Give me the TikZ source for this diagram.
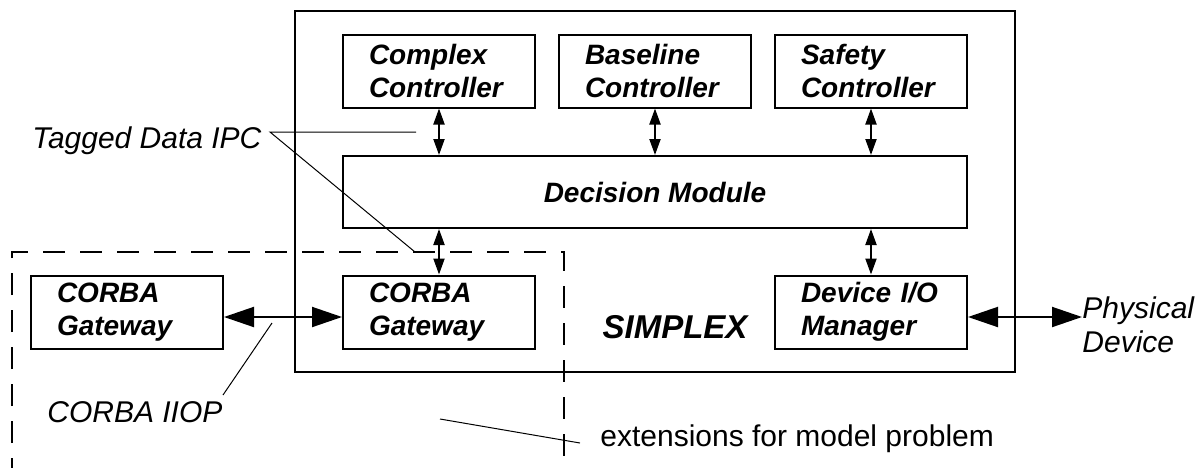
\documentclass[tikz,border=0pt]{standalone}
\usepackage{fontspec}
\setmainfont{Liberation Sans}
\usetikzlibrary{arrows.meta}

\begin{document}
\begin{tikzpicture}[x = 0.5pt, y = -0.5pt,
  box/.style = {draw, line width = 1pt, minimum height = 36.5pt, text width = 70pt, inner xsep = 13pt, inner ysep = 0pt, align = left, font = \fontsize{14}{16.5}\selectfont\bfseries\itshape},
  wide/.style = {draw, line width = 1pt, minimum width = 312pt, minimum height = 36pt, inner sep = 0pt, font = \fontsize{14}{16.5}\selectfont\bfseries\itshape},
  small/.style = {line width = 1pt, {Triangle[length = 8pt, width = 5.5pt]}-{Triangle[length = 8pt, width = 5.5pt]}},
  big/.style = {line width = 1pt, {Triangle[length = 15pt, width = 10pt]}-{Triangle[length = 15pt, width = 10pt]}},
  leader/.style = {line width = 0.5pt},
  note/.style = {font = \fontsize{15}{17}\selectfont\itshape, inner sep = 0pt}]
\useasboundingbox (0, 0) rectangle (1200, 467);
%\draw[very thin, color = gray] (0, 0) grid[step = 100] (1200, 467);
\draw [line width = 1pt] (295, 11) rectangle (1015, 372);
\draw [line width = 1pt, dash pattern = on 11pt off 7.5pt] (12, 480) -- (12, 252) -- (564, 252) -- (564, 480);
\node (complex) at (439, 71) [box] {Complex\\Controller};
\node (baseline) at (655, 71) [box] {Baseline\\Controller};
\node (safety) at (871, 71) [box] {Safety\\Controller};
\node (decision) at (655, 192) [wide] {Decision Module};
\node (gwB) at (439, 312) [box] {CORBA\\Gateway};
\node (gwA) at (127, 312) [box] {CORBA\\Gateway};
\node (device) at (871, 312) [box] {Device I/O\\Manager};
\node (simplex) at (675, 327) [font = \fontsize{16.5}{18}\selectfont\bfseries\itshape] {SIMPLEX};
\node (tagged) at (32, 148) [note, anchor = base west] {Tagged Data IPC};
\node (iiop) at (47, 422) [note, anchor = base west] {CORBA IIOP};
\node (phys) at (1082, 325) [note, anchor = west, align = left] {Physical\\Device};
\node (ext) at (600, 446) [note, anchor = base west, font = \fontsize{15}{17}\selectfont] {extensions for model problem};
\draw [small] (complex.south) -- (complex.south |- decision.north);
\draw [small] (baseline.south) -- (baseline.south |- decision.north);
\draw [small] (safety.south) -- (safety.south |- decision.north);
\draw [small] (decision.south -| gwB.north) -- (gwB.north);
\draw [small] (decision.south -| device.north) -- (device.north);
\draw [big] ([yshift = -2.5pt]gwA.east) -- ([yshift = -2.5pt]gwB.west);
\draw [big] ([yshift = -2.5pt]device.east) -- ([yshift = -2.5pt]device.east -| phys.west);
\coordinate (ipc) at (270, 132);
\coordinate (ipcA) at (416, 132);
\coordinate (ipcB) at (415, 252);
\draw [leader] (ipcA) -- (ipc) -- (ipcB);
\coordinate (iiopA) at (223, 395);
\coordinate (iiopB) at (272, 323);
\draw [leader] (iiopA) -- (iiopB);
\coordinate (extA) at (440, 419);
\coordinate (extB) at (580, 443);
\draw [leader] (extA) -- (extB);
\end{tikzpicture}
\end{document}
